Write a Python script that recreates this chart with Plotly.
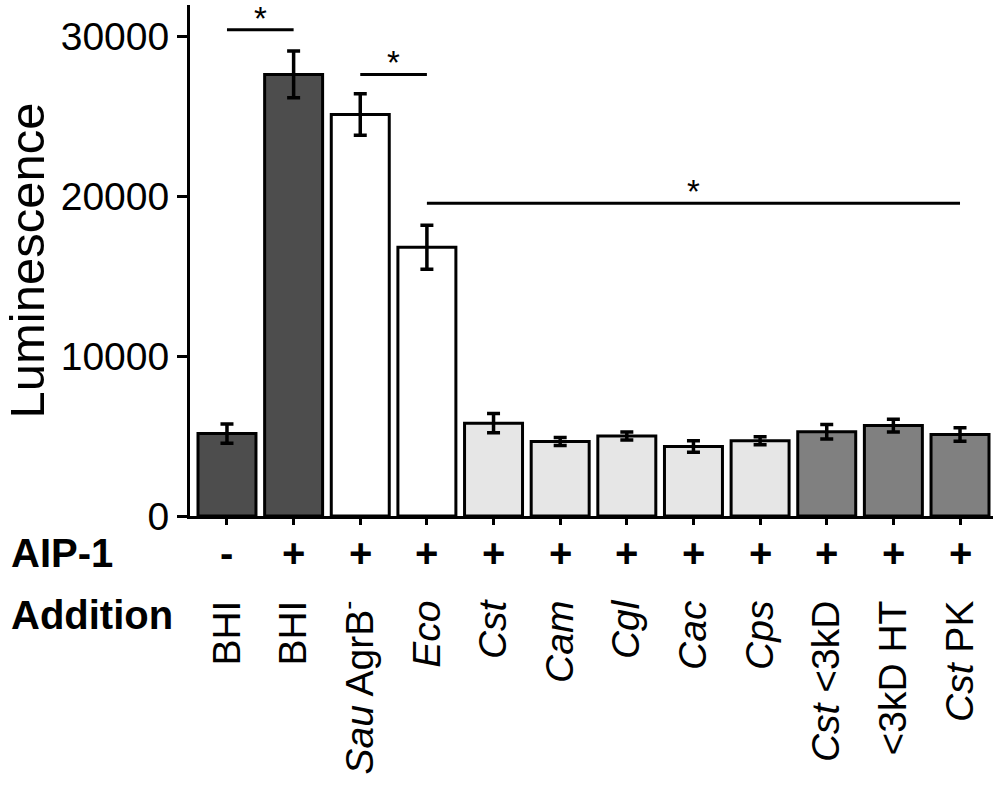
import plotly.graph_objects as go

labels = ['BHI', 'BHI', '<i>Sau</i> AgrB<sup>-</sup>', '<i>Eco</i>', '<i>Cst</i>', '<i>Cam</i>',
          '<i>Cgl</i>', '<i>Cac</i>', '<i>Cps</i>', '<i>Cst</i> <3kD', '<3kD HT', '<i>Cst</i> PK']
aip = ['-', '+', '+', '+', '+', '+', '+', '+', '+', '+', '+', '+']
lum = [5150, 27600, 25100, 16800, 5800, 4650, 5000, 4350, 4700, 5270, 5650, 5100]
err = [600, 1460, 1300, 1380, 600, 250, 250, 360, 250, 450, 400, 420]
colors = ['#4d4d4d', '#4d4d4d', '#ffffff', '#ffffff', '#e6e6e6', '#e6e6e6',
          '#e6e6e6', '#e6e6e6', '#e6e6e6', '#808080', '#808080', '#808080']

# significance brackets: (from, to, height)
sig = [(0, 1, 30400), (2, 3, 27600), (3, 11, 19550)]

FONT = 'Arial, Liberation Sans, sans-serif'
x = list(range(len(labels)))

fig = go.Figure(go.Bar(
    x=x, y=lum, width=0.87,
    marker=dict(color=colors, line=dict(color='black', width=3)),
    error_y=dict(type='data', array=err, color='black', thickness=3.5, width=6.5),
))

for a, b, h in sig:
    fig.add_shape(type='line', x0=a, x1=b, y0=h, y1=h, xref='x', yref='y',
                  line=dict(color='black', width=3))
    fig.add_annotation(x=(a + b) / 2, y=h, xref='x', yref='y', text='*', showarrow=False,
                       yanchor='bottom', yshift=-9, font=dict(size=33, color='black'))

for i, s in enumerate(aip):
    fig.add_annotation(x=i, y=-0.0724, xref='x', yref='paper', text='<b>%s</b>' % s,
                       showarrow=False, yanchor='middle', font=dict(size=40, color='black'))

fig.add_annotation(x=-0.226, y=-0.0724, xref='paper', yref='paper', text='<b>AIP-1</b>',
                   showarrow=False, xanchor='left', yanchor='middle', font=dict(size=40, color='black'))
fig.add_annotation(x=-0.226, y=-0.194, xref='paper', yref='paper', text='<b>Addition</b>',
                   showarrow=False, xanchor='left', yanchor='middle', font=dict(size=40, color='black'))

fig.update_layout(
    width=1000, height=787,
    margin=dict(l=190, r=7, t=5, b=271),
    plot_bgcolor='white', paper_bgcolor='white',
    font=dict(family=FONT, color='black', size=39),
    showlegend=False,
    xaxis=dict(range=[-0.555, 11.495], tickvals=x, ticktext=labels, tickangle=-90,
               ticklabelstandoff=60, tickfont=dict(size=39),
               ticks='outside', ticklen=6, tickwidth=2.5, tickcolor='black',
               showline=True, linecolor='black', linewidth=3, showgrid=False, zeroline=False),
    yaxis=dict(range=[0, 31940], tickvals=[0, 10000, 20000, 30000], tickformat='d',
               ticks='outside', ticklen=10, tickwidth=3, tickcolor='black',
               showline=True, linecolor='black', linewidth=3, showgrid=False, zeroline=False,
               title=dict(text='Luminescence', font=dict(size=49), standoff=6),
               tickfont=dict(size=39)),
)

fig.write_html("out.html", config={'displayModeBar': False},
               post_script="document.body.style.margin='0';")
